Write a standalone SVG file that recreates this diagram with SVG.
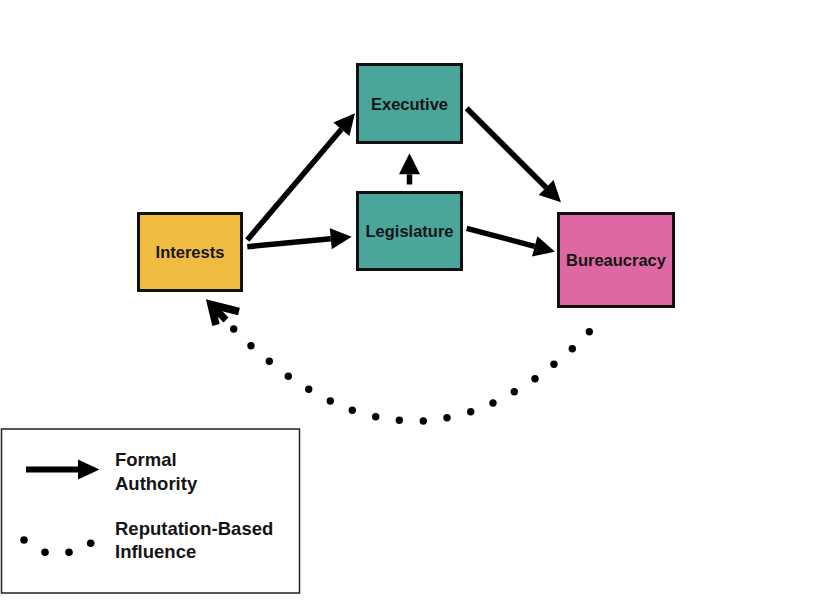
<svg xmlns="http://www.w3.org/2000/svg" width="814" height="604" viewBox="0 0 814 604">
<style>
.box{stroke:#111;stroke-width:3}
.lbl{font-family:"Liberation Sans",Arial,Helvetica,sans-serif;font-weight:bold;font-size:16.5px;fill:#151515;text-anchor:middle}
.leg{font-family:"Liberation Sans",Arial,Helvetica,sans-serif;font-weight:bold;font-size:18.5px;fill:#151515}
.arr{stroke:#000;stroke-width:5.5;fill:none;marker-end:url(#head)}
.dot{fill:#000}
</style>
<defs>
<marker id="head" markerUnits="userSpaceOnUse" markerWidth="22" markerHeight="22" refX="0" refY="10.5" orient="auto" overflow="visible">
<path d="M0,0 L21,10.5 L0,21 Z" fill="#000"/>
</marker>
</defs>
<rect width="814" height="604" fill="#fff"/>
<g id="connectors">
<line class="arr" x1="247.3" y1="240" x2="341.4" y2="129.3"/>
<line class="arr" x1="247.3" y1="246.7" x2="330.8" y2="238.7"/>
<line class="arr" x1="409.5" y1="184.5" x2="409.5" y2="174.3"/>
<line class="arr" x1="466.7" y1="108.3" x2="546.1" y2="187.5"/>
<line class="arr" x1="466.7" y1="228.3" x2="534.7" y2="246.3"/>
<g id="influence">
<circle class="dot" cx="589.3" cy="331.7" r="3.7"/>
<circle class="dot" cx="572.3" cy="348.7" r="3.7"/>
<circle class="dot" cx="554" cy="364.3" r="3.7"/>
<circle class="dot" cx="535" cy="378.7" r="3.7"/>
<circle class="dot" cx="514.3" cy="391.7" r="3.7"/>
<circle class="dot" cx="493" cy="403" r="3.7"/>
<circle class="dot" cx="470.7" cy="411.7" r="3.7"/>
<circle class="dot" cx="447" cy="417.7" r="3.7"/>
<circle class="dot" cx="423.3" cy="421" r="3.7"/>
<circle class="dot" cx="399.3" cy="420.3" r="3.7"/>
<circle class="dot" cx="375.7" cy="416.7" r="3.7"/>
<circle class="dot" cx="352.3" cy="410.3" r="3.7"/>
<circle class="dot" cx="330.3" cy="401" r="3.7"/>
<circle class="dot" cx="308.7" cy="389.3" r="3.7"/>
<circle class="dot" cx="288.3" cy="376.3" r="3.7"/>
<circle class="dot" cx="269.3" cy="361.3" r="3.7"/>
<circle class="dot" cx="251" cy="345.7" r="3.7"/>
<circle class="dot" cx="233.7" cy="329" r="3.7"/>
<path d="M239,311.5 L211,304.5 L216,325" fill="none" stroke="#000" stroke-width="7.5" stroke-linejoin="miter"/>
<line x1="211" y1="304.5" x2="226" y2="320" stroke="#000" stroke-width="7"/>
</g>
</g>
<g id="interests">
<rect class="box" x="138.5" y="213.5" width="103" height="77" fill="#EFBC41"/>
<text class="lbl" x="190" y="258">Interests</text>
</g>
<g id="executive">
<rect class="box" x="357.5" y="64.5" width="104" height="78" fill="#4AA69A"/>
<text class="lbl" x="409.5" y="109.5">Executive</text>
</g>
<g id="legislature">
<rect class="box" x="357.5" y="192.5" width="104" height="77" fill="#4AA69A"/>
<text class="lbl" x="409.5" y="237">Legislature</text>
</g>
<g id="bureaucracy">
<rect class="box" x="558.5" y="213.5" width="115" height="93" fill="#DE68A4"/>
<text class="lbl" x="616" y="266">Bureaucracy</text>
</g>
<g id="legend">
<rect x="1.5" y="429" width="298" height="164" fill="none" stroke="#222" stroke-width="1.5"/>
<line x1="26" y1="469.5" x2="79" y2="469.5" stroke="#000" stroke-width="6"/>
<path d="M78,459.5 L99.5,469.5 L78,479.5 Z" fill="#000"/>
<text class="leg" x="115" y="466">Formal</text>
<text class="leg" x="115" y="489.5">Authority</text>
<circle class="dot" cx="24" cy="540" r="3.8"/>
<circle class="dot" cx="45" cy="552.3" r="3.8"/>
<circle class="dot" cx="69" cy="552.3" r="3.8"/>
<circle class="dot" cx="90.7" cy="543.3" r="3.8"/>
<text class="leg" x="115" y="535">Reputation-Based</text>
<text class="leg" x="115" y="558">Influence</text>
</g>
</svg>
